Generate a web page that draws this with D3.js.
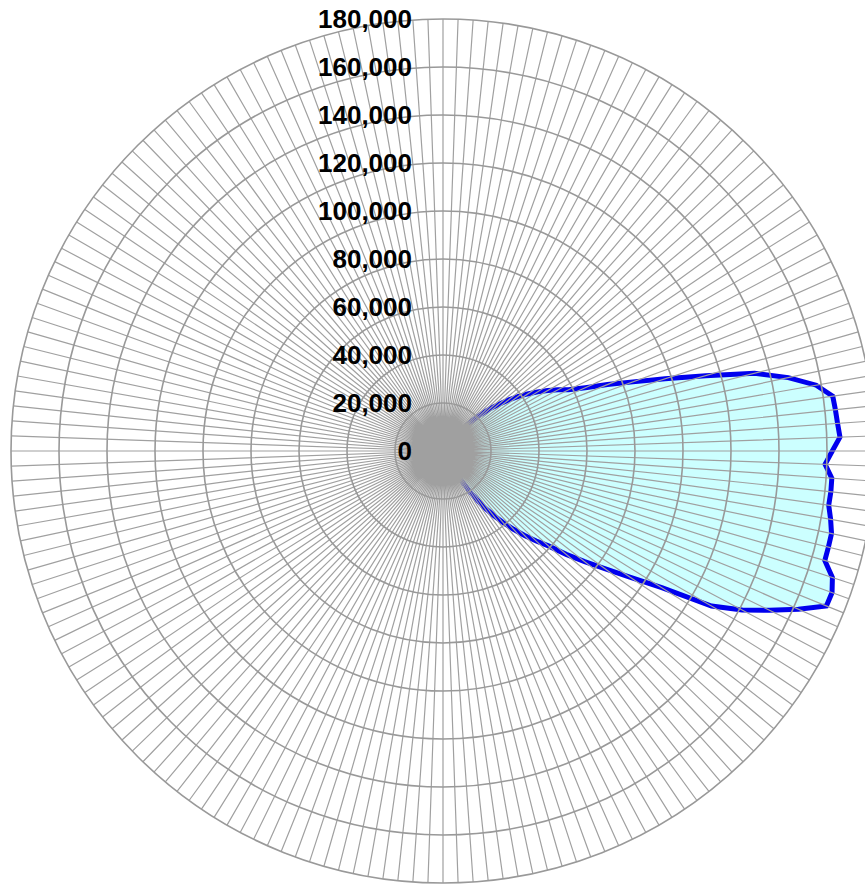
<!DOCTYPE html>
<html>
<head>
<meta charset="utf-8">
<script src="https://cdn.jsdelivr.net/npm/d3@7"></script>
<style>
  html, body { margin: 0; padding: 0; background: #ffffff; }
  svg { display: block; }
</style>
</head>
<body>
<svg id="chart" width="865" height="884"></svg>
<script>
// Direction of each spoke, degrees clockwise from north (2-degree bins)
const directions = d3.range(0, 360, 2);

// Value recorded for each direction bin
const values = [
  0, 0, 0, 0, 0, 0, 0, 0, 0, 0,
  0, 0, 0, 0, 0, 0, 0, 0, 0, 4000,
  8800, 13000, 17500, 22000, 26500, 30200, 34400, 38500, 42500, 46500,
  50400, 54300, 58200, 64900, 73900, 84200, 97300, 113900, 133800, 147100,
  157900, 164000, 164400, 164800, 165500, 162200, 159300, 162400, 162500, 162300,
  164000, 165500, 165500, 165500, 170600, 172500, 172300, 162100, 151300, 141200,
  129200, 107500, 93900, 83300, 74900, 67000, 59100, 54000, 48900, 43900,
  38900, 33700, 28500, 22100, 15400, 8800, 2500, 0, 0, 0,
  0, 0, 0, 0, 0, 0, 0, 0, 0, 0,
  0, 0, 0, 0, 0, 0, 0, 0, 0, 0,
  0, 0, 0, 0, 0, 0, 0, 0, 0, 0,
  0, 0, 0, 0, 0, 0, 0, 0, 0, 0,
  0, 0, 0, 0, 0, 0, 0, 0, 0, 0,
  0, 0, 0, 0, 0, 0, 0, 0, 0, 0,
  0, 0, 0, 0, 0, 0, 0, 0, 0, 0,
  0, 0, 0, 0, 0, 0, 0, 0, 0, 0,
  0, 0, 0, 0, 0, 0, 0, 0, 0, 0,
  0, 0, 0, 0, 0, 0, 0, 0, 0, 0
];

// Radial tick values and their labels
const radialTicks = [0, 20000, 40000, 60000, 80000, 100000, 120000, 140000, 160000, 180000];
const radialTickLabels = ["0", "20,000", "40,000", "60,000", "80,000", "100,000", "120,000", "140,000", "160,000", "180,000"];

const cx = 443, cy = 451, outerR = 432;

const svg = d3.select("#chart");
const g = svg.append("g").attr("transform", `translate(${cx},${cy})`);

const r = d3.scaleLinear().domain([0, 180000]).range([0, outerR]);
const angle = d3.scaleLinear().domain([0, 360]).range([0, 2 * Math.PI]);

const points = directions.map((d, i) => ({ dir: d, value: values[i] }));

// Filled area
const area = d3.areaRadial()
  .angle(d => angle(d.dir))
  .innerRadius(0)
  .outerRadius(d => r(d.value))
  .curve(d3.curveLinearClosed);

g.append("path")
  .datum(points)
  .attr("d", area)
  .attr("fill", "#ccffff")
  .attr("stroke", "none");

// Outline
const line = d3.lineRadial()
  .angle(d => angle(d.dir))
  .radius(d => r(d.value))
  .curve(d3.curveLinearClosed);

g.append("path")
  .datum(points)
  .attr("d", line)
  .attr("fill", "none")
  .attr("stroke", "#0000ee")
  .attr("stroke-width", 5)
  .attr("stroke-linejoin", "miter");

// Spokes, one stroked path so they merge where they converge at the centre
const spokePath = d3.path();
directions.forEach(d => {
  spokePath.moveTo(0, 0);
  spokePath.lineTo(outerR * Math.sin(angle(d)), -outerR * Math.cos(angle(d)));
});
g.append("path")
  .attr("d", spokePath.toString())
  .attr("fill", "none")
  .attr("stroke", "#a0a0a0")
  .attr("stroke-width", 1.2);

// Rings
g.append("g")
  .selectAll("circle")
  .data(radialTicks.filter(t => t > 0))
  .join("circle")
  .attr("r", d => r(d))
  .attr("fill", "none")
  .attr("stroke", "#999999")
  .attr("stroke-width", 1.6);

// Radial labels
g.append("g")
  .selectAll("text")
  .data(radialTicks)
  .join("text")
  .attr("x", -31)
  .attr("y", d => -r(d))
  .attr("text-anchor", "end")
  .attr("dominant-baseline", "central")
  .attr("font-family", "'Liberation Sans', Arial, sans-serif")
  .attr("font-weight", "bold")
  .attr("font-size", 26)
  .attr("fill", "#000000")
  .text((d, i) => radialTickLabels[i]);
</script>
</body>
</html>
